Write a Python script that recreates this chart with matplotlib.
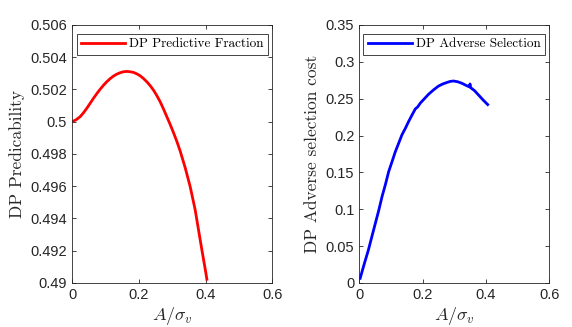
import numpy as np
import matplotlib
matplotlib.use("Agg")
import matplotlib.pyplot as plt

# ============ data ============
x_pred = [0.0, 0.012, 0.024, 0.034, 0.044, 0.054, 0.064, 0.074, 0.084, 0.094, 0.104,
          0.114, 0.124, 0.134, 0.144, 0.154, 0.164, 0.174, 0.184, 0.194, 0.204,
          0.214, 0.224, 0.234, 0.244, 0.254, 0.264, 0.274, 0.284, 0.294, 0.304,
          0.314, 0.324, 0.339, 0.354, 0.369, 0.379, 0.389, 0.396, 0.401, 0.404]
y_pred = [0.5, 0.50012, 0.50031, 0.50055, 0.50083, 0.50114, 0.50145, 0.50174, 0.50201,
          0.50226, 0.50248, 0.50267, 0.50283, 0.50295, 0.50304, 0.50310, 0.50312,
          0.50310, 0.50306, 0.50297, 0.50285, 0.50268, 0.50248, 0.50224, 0.50196,
          0.50162, 0.50124, 0.50079, 0.50031, 0.49983, 0.49932, 0.49878, 0.49818,
          0.49715, 0.49597, 0.49453, 0.49329, 0.49205, 0.49122, 0.49062, 0.49023]

x_adv = [0.003, 0.016, 0.029, 0.04, 0.051, 0.062, 0.072, 0.083, 0.093, 0.104, 0.114,
         0.125, 0.135, 0.146, 0.156, 0.167, 0.177, 0.185, 0.193, 0.206, 0.219, 0.235,
         0.25, 0.264, 0.277, 0.288, 0.298, 0.311, 0.324, 0.338, 0.348, 0.350, 0.352,
         0.364, 0.377, 0.392, 0.406]
y_adv = [0.0064, 0.026, 0.0448, 0.063, 0.081, 0.099, 0.117, 0.134, 0.151, 0.165, 0.178,
         0.19, 0.201, 0.21, 0.219, 0.228, 0.236, 0.239, 0.244, 0.25, 0.256, 0.262,
         0.267, 0.27, 0.272, 0.2735, 0.274, 0.273, 0.271, 0.268, 0.266, 0.270, 0.265,
         0.261, 0.255, 0.248, 0.242]

xticks = [0, 0.2, 0.4, 0.6]
yticks_pred = [0.49, 0.492, 0.494, 0.496, 0.498, 0.5, 0.502, 0.504, 0.506]
yticks_adv = [0, 0.05, 0.1, 0.15, 0.2, 0.25, 0.3, 0.35]

# ============ style ============
plt.rcParams['font.family'] = ['Liberation Sans', 'DejaVu Sans']
plt.rcParams['mathtext.fontset'] = 'cm'
serif = ['cmr10', 'DejaVu Serif']
axcol = '0.15'

fig = plt.figure(figsize=[5.72, 3.27], dpi=100)
ax1 = fig.add_axes([0.126, 0.1346, 0.350, 0.789])
ax2 = fig.add_axes([0.628, 0.1346, 0.332, 0.789])


def opmaak(ax, yticks, ylab):
    ax.set_xlim(0, 0.6)
    ax.set_ylim(yticks[0], yticks[-1])
    ax.set_xticks(xticks)
    ax.set_xticklabels(['0', '0.2', '0.4', '0.6'])
    ax.set_yticks(yticks)
    ax.set_yticklabels([('%g' % v) for v in yticks])
    ax.tick_params(direction='in', top=True, right=True, length=3,
                   labelsize=10.5, colors=axcol, width=0.6)
    for s in ax.spines.values():
        s.set_color(axcol)
        s.set_linewidth(0.6)
    ax.set_xlabel(r'$A/\sigma_v$', fontsize=13, color=axcol, labelpad=2)
    ax.set_ylabel(ylab, fontsize=12.5, color=axcol, family=serif, labelpad=4)


# links: voorspelbaarheid
ax1.plot(x_pred, y_pred, color='red', lw=2, label='DP Predictive Fraction',
         solid_joinstyle='round')
opmaak(ax1, yticks_pred, 'DP Predicability')

# rechts: adverse selection
ax2.plot(x_adv, y_adv, color='blue', lw=2, label='DP Adverse Selection',
         solid_joinstyle='round')
opmaak(ax2, yticks_adv, 'DP Adverse selection cost')

for ax in (ax1, ax2):
    leg = ax.legend(loc='upper center', fancybox=False, handlelength=3.3,
                    borderaxespad=0.65, prop={'family': serif, 'size': 9.5},
                    borderpad=0.35, handletextpad=0.3)
    leg.get_frame().set_edgecolor(axcol)
    leg.get_frame().set_linewidth(0.6)
    leg.get_frame().set_alpha(1)

fig.savefig('out.png', dpi=100)
